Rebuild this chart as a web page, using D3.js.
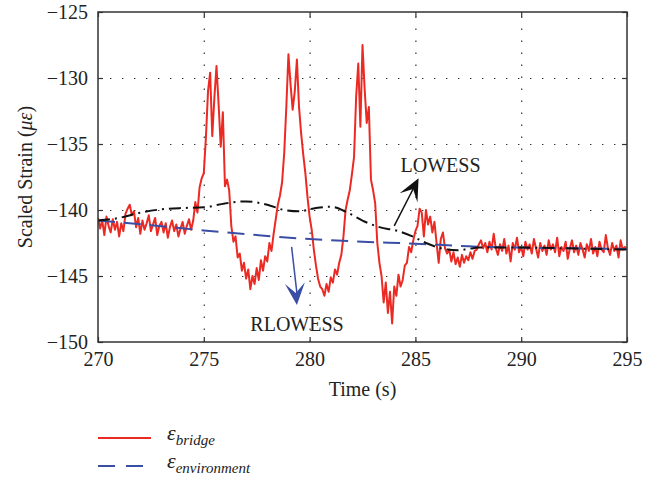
<!DOCTYPE html>
<html lang="en">
<head>
  <meta charset="UTF-8">
  <title>Scaled Strain vs Time</title>
  <style>
    body { margin: 0; background: #fff; }
    svg text { font-family: "Liberation Serif", "DejaVu Serif", serif; fill: #222; }
    .grid line { stroke: #333; stroke-dasharray: 1.4 10.6; stroke-width: 1.2; }
    .grid path { display: none; }
    .tick-only path { display: none; }
    .tick-only line { stroke: #333; stroke-width: 1.2; }
  </style>
</head>
<body>
  <div id="chart"></div>

  <script src="https://d3js.org/d3.v7.min.js"></script>
  <script>
    // time axis: 270 s .. 295 s, bridge signal sampled every 0.1 s
    const startTime = 270;
    const step = 0.1;
    const bridgeStrain = [
      -140.6, -141.4, -140.8, -141.9, -140.5, -141.2, -141.7, -140.7, -141.5, -140.9,
      -142.0, -141.0, -141.6, -140.3, -139.9, -139.6, -140.4, -140.1, -141.3, -140.6,
      -141.8, -140.8, -141.5, -141.0, -140.4, -141.6, -141.1, -140.6, -141.9, -141.2,
      -140.9, -141.7, -141.0, -142.1, -141.3, -140.8, -141.6, -141.1, -142.0, -141.4,
      -140.9, -141.8, -141.2, -140.7, -141.5, -140.8, -139.4, -140.2, -138.3, -137.6,
      -137.2, -134.5, -131.0, -129.6, -134.4, -131.5, -129.1, -132.0, -135.2, -132.6,
      -138.2, -137.7, -138.5, -141.2, -142.4, -142.0, -143.6, -143.3, -144.6, -144.0,
      -145.2, -144.5, -146.0, -145.0, -145.6, -144.4, -145.3, -143.8, -144.6, -143.5,
      -143.9, -142.5, -143.1, -141.8, -140.7, -139.6, -138.9, -137.9, -135.7, -132.2,
      -128.2, -130.5, -132.4, -131.0, -128.6, -132.2, -134.2, -135.8, -137.2, -139.0,
      -140.5, -141.5, -143.0, -144.2, -145.2, -145.8, -146.0, -146.5, -145.6, -146.2,
      -145.1, -145.5, -144.5, -144.9, -144.0, -143.4, -142.0, -140.0, -139.2, -138.5,
      -137.3, -136.0, -131.4, -128.9, -133.7, -127.5, -130.8, -133.4, -132.2, -137.7,
      -138.5, -139.5, -142.5, -144.0, -145.0, -147.0, -145.5, -147.8, -146.2, -148.6,
      -145.8, -146.5, -144.9, -145.8, -145.3, -144.2, -144.0, -142.8, -143.2, -142.3,
      -141.6, -141.2, -139.9, -140.2, -142.0, -140.0, -141.1, -140.5, -141.7, -140.9,
      -142.5, -144.0, -142.2, -141.7, -142.9, -143.3, -143.0, -143.9, -143.2, -144.1,
      -143.6, -144.3, -143.4, -144.0, -143.5, -143.8, -143.2, -143.7, -143.1, -143.0,
      -142.6, -142.3, -142.9, -142.5, -143.2, -142.4, -143.0, -141.8, -142.9, -143.4,
      -142.6, -143.1, -142.2, -143.3, -142.7, -143.9, -142.5, -143.0, -142.1, -143.2,
      -142.8, -143.5, -142.4, -143.0, -142.6, -143.3, -142.2, -142.9, -143.6, -142.5,
      -143.1, -142.7, -143.4, -142.3, -143.0, -142.6, -143.2, -142.1, -143.5, -142.8,
      -143.1, -142.4, -143.7, -142.9, -142.3, -143.2, -142.7, -143.4, -142.5, -143.0,
      -143.6, -142.6, -143.1, -142.2, -143.3, -142.8, -143.5, -142.4, -143.0, -143.2,
      -141.9, -142.9, -143.4, -142.5, -143.1, -142.7, -143.6, -142.3, -143.0, -142.8,
      -143.0
    ];

    // LOWESS fit (black dash-dot)
    const lowessTime = [270, 271, 272, 273, 274, 275, 276, 277, 278, 278.8, 279.5, 280.3, 281,
                        281.8, 282.5, 283.3, 284.2, 285, 285.5, 286, 286.5, 287, 287.5, 288, 290, 292, 295];
    const lowessStrain = [-140.8, -140.6, -140.2, -139.95, -139.85, -139.8, -139.5, -139.35, -139.6, -140.0, -140.1, -139.85, -139.75,
                          -140.2, -140.8, -141.3, -141.6, -142.1, -142.5, -142.8, -143.0, -143.05, -142.95, -142.85, -142.85, -142.9, -143.0];

    // RLOWESS fit (blue dashed) = environment
    const rlowessTime = [270, 272.5, 275, 277.5, 280, 282.5, 285, 287.5, 290, 292.5, 295];
    const rlowessStrain = [-140.8, -141.15, -141.55, -141.9, -142.2, -142.4, -142.55, -142.75, -142.85, -142.9, -142.95];

    const xTicks = [270, 275, 280, 285, 290, 295];
    const yTicks = [-150, -145, -140, -135, -130, -125];

    const width = 663;
    const height = 480;
    const margin = { left: 98, right: 36, top: 12, bottom: 138 };
    const innerW = width - margin.left - margin.right;
    const innerH = height - margin.top - margin.bottom;

    const red = '#ec2a24';
    const blue = '#3b4ea6';

    const svg = d3.select('#chart').append('svg')
      .attr('width', width)
      .attr('height', height);

    const x = d3.scaleLinear().domain([270, 295]).range([margin.left, margin.left + innerW]);
    const y = d3.scaleLinear().domain([-150, -125]).range([margin.top + innerH, margin.top]);

    // dotted grid
    svg.append('g')
      .attr('class', 'grid')
      .attr('transform', `translate(0,${margin.top + innerH})`)
      .call(d3.axisBottom(x).tickValues(xTicks.slice(1, -1)).tickSize(-innerH).tickFormat(''));
    svg.append('g')
      .attr('class', 'grid')
      .attr('transform', `translate(${margin.left},0)`)
      .call(d3.axisLeft(y).tickValues(yTicks.slice(1, -1)).tickSize(-innerW).tickFormat(''));

    svg.append('clipPath').attr('id', 'plotclip')
      .append('rect')
      .attr('x', margin.left).attr('y', margin.top)
      .attr('width', innerW).attr('height', innerH);

    const plot = svg.append('g').attr('clip-path', 'url(#plotclip)');

    const bridgeLine = d3.line()
      .x((d, i) => x(startTime + i * step))
      .y(d => y(d));

    plot.append('path')
      .datum(bridgeStrain)
      .attr('fill', 'none')
      .attr('stroke', red)
      .attr('stroke-width', 2)
      .attr('stroke-linejoin', 'round')
      .attr('d', bridgeLine);

    const fitLine = (times) => d3.line()
      .x((d, i) => x(times[i]))
      .y(d => y(d))
      .curve(d3.curveMonotoneX);

    plot.append('path')
      .datum(rlowessStrain)
      .attr('fill', 'none')
      .attr('stroke', blue)
      .attr('stroke-width', 2)
      .attr('stroke-dasharray', '17 9')
      .attr('d', fitLine(rlowessTime));

    plot.append('path')
      .datum(lowessStrain)
      .attr('fill', 'none')
      .attr('stroke', '#111')
      .attr('stroke-width', 2)
      .attr('stroke-dasharray', '12 5 2 5')
      .attr('d', fitLine(lowessTime));

    // frame and inward ticks on all four sides
    svg.append('g').attr('class', 'tick-only')
      .attr('transform', `translate(0,${margin.top + innerH})`)
      .call(d3.axisBottom(x).tickValues(xTicks).tickSize(-5).tickPadding(10).tickFormat(d3.format('d')))
      .call(g => g.selectAll('text').attr('font-size', 20).attr('fill', '#222'));
    svg.append('g').attr('class', 'tick-only')
      .attr('transform', `translate(0,${margin.top})`)
      .call(d3.axisTop(x).tickValues(xTicks).tickSize(-5).tickFormat(''));
    svg.append('g').attr('class', 'tick-only')
      .attr('transform', `translate(${margin.left},0)`)
      .call(d3.axisLeft(y).tickValues(yTicks).tickSize(-5).tickPadding(10))
      .call(g => g.selectAll('text').attr('font-size', 20).attr('fill', '#222'));
    svg.append('g').attr('class', 'tick-only')
      .attr('transform', `translate(${margin.left + innerW},0)`)
      .call(d3.axisRight(y).tickValues(yTicks).tickSize(-5).tickFormat(''));

    svg.append('rect')
      .attr('x', margin.left).attr('y', margin.top)
      .attr('width', innerW).attr('height', innerH)
      .attr('fill', 'none')
      .attr('stroke', '#333')
      .attr('stroke-width', 1.5);

    // axis titles
    svg.append('text')
      .attr('x', margin.left + innerW / 2)
      .attr('y', 396)
      .attr('text-anchor', 'middle')
      .attr('font-size', 20)
      .text('Time (s)');

    const yTitle = svg.append('text')
      .attr('transform', `translate(32,${margin.top + innerH / 2}) rotate(-90)`)
      .attr('text-anchor', 'middle')
      .attr('font-size', 20);
    yTitle.append('tspan').text('Scaled Strain (');
    yTitle.append('tspan').attr('font-style', 'italic').text('με');
    yTitle.append('tspan').text(')');

    // annotations
    const arrowHead = (tipX, tipY, angle, color) => {
      const len = 22, half = 10, notch = 12;
      const pts = [[0, 0], [-len, -half], [-notch, 0], [-len, half]];
      svg.append('path')
        .attr('d', d3.line()(pts) + 'Z')
        .attr('fill', color)
        .attr('transform', `translate(${tipX},${tipY}) rotate(${angle})`);
    };

    const blueFrom = [x(279.15), y(-142.8)];
    const blueTo = [x(279.4), y(-147.2)];
    svg.append('line')
      .attr('x1', blueFrom[0]).attr('y1', blueFrom[1])
      .attr('x2', blueTo[0]).attr('y2', blueTo[1] - 12)
      .attr('stroke', blue).attr('stroke-width', 1.5);
    arrowHead(blueTo[0], blueTo[1], Math.atan2(blueTo[1] - blueFrom[1], blueTo[0] - blueFrom[0]) * 180 / Math.PI, blue);

    const blackFrom = [x(284.0), y(-141.2)];
    const blackTo = [x(285.15), y(-137.6)];
    const ang = Math.atan2(blackTo[1] - blackFrom[1], blackTo[0] - blackFrom[0]);
    svg.append('line')
      .attr('x1', blackFrom[0]).attr('y1', blackFrom[1])
      .attr('x2', blackTo[0] - 12 * Math.cos(ang)).attr('y2', blackTo[1] - 12 * Math.sin(ang))
      .attr('stroke', '#111').attr('stroke-width', 1.5);
    arrowHead(blackTo[0], blackTo[1], ang * 180 / Math.PI, '#111');

    svg.append('text')
      .attr('x', x(284.3)).attr('y', y(-137.15))
      .attr('font-size', 20)
      .text('LOWESS');
    svg.append('text')
      .attr('x', x(277.2)).attr('y', y(-149.2))
      .attr('font-size', 20)
      .text('RLOWESS');

    // legend
    const legendItems = [
      { sub: 'bridge', color: red, dash: null, y: 438 },
      { sub: 'environment', color: blue, dash: '17 11', y: 466 }
    ];
    legendItems.forEach(item => {
      svg.append('line')
        .attr('x1', 98).attr('x2', 151)
        .attr('y1', item.y).attr('y2', item.y)
        .attr('stroke', item.color)
        .attr('stroke-width', 2)
        .attr('stroke-dasharray', item.dash);
      const t = svg.append('text')
        .attr('x', 167).attr('y', item.y + 2)
        .attr('font-size', 22)
        .attr('font-style', 'italic');
      t.append('tspan').text('ε');
      t.append('tspan').attr('font-size', 15).attr('dy', 5).text(item.sub);
    });
  </script>
</body>
</html>
